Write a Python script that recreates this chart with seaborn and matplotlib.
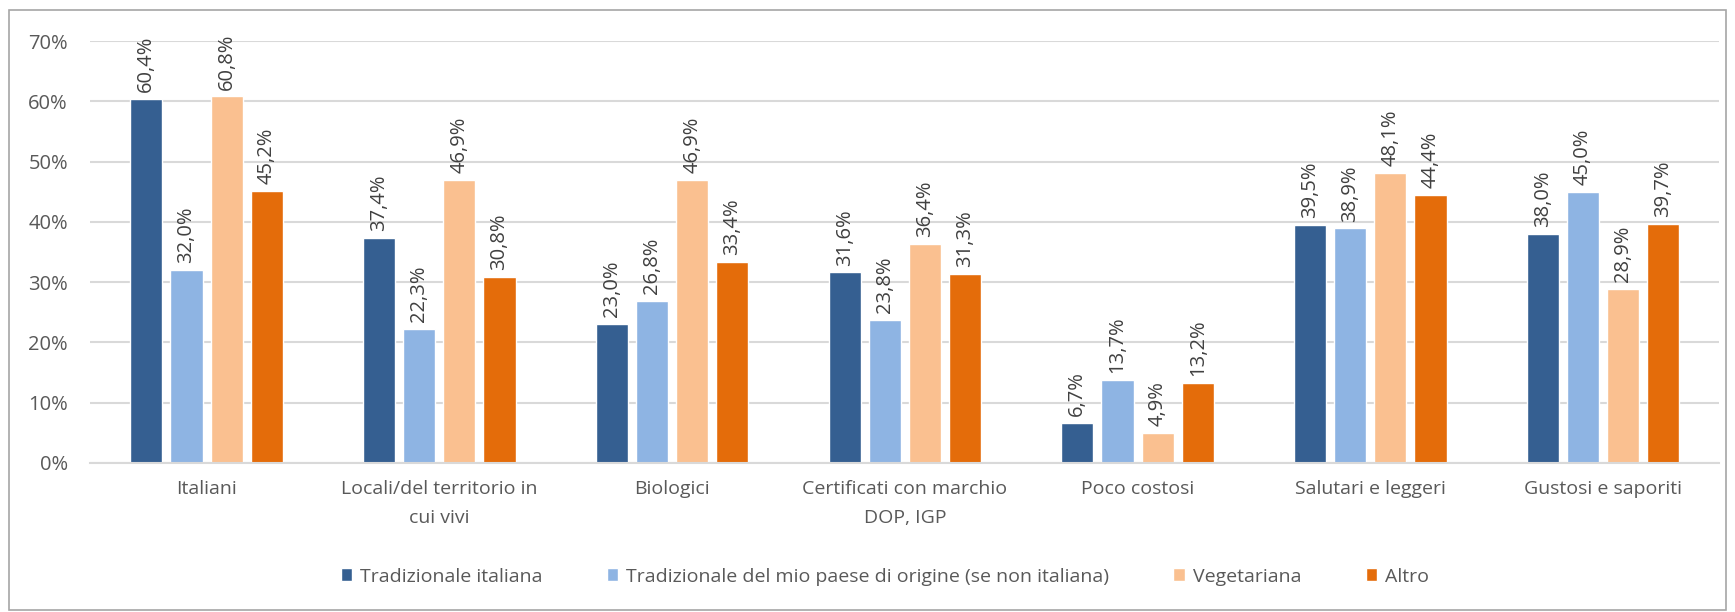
import matplotlib
matplotlib.use("Agg")
import matplotlib.pyplot as plt
import seaborn as sns
import pandas as pd
from matplotlib.patches import Rectangle

categories = ["Italiani", "Locali/del territorio in\ncui vivi", "Biologici",
              "Certificati con marchio\nDOP, IGP", "Poco costosi",
              "Salutari e leggeri", "Gustosi e saporiti"]
series = ["Tradizionale italiana",
          "Tradizionale del mio paese di origine (se non italiana)",
          "Vegetariana", "Altro"]
trad_italiana = [60.4, 37.4, 23.0, 31.6, 6.7, 39.5, 38.0]
trad_origine = [32.0, 22.3, 26.8, 23.8, 13.7, 38.9, 45.0]
vegetariana = [60.8, 46.9, 46.9, 36.4, 4.9, 48.1, 28.9]
altro = [45.2, 30.8, 33.4, 31.3, 13.2, 44.4, 39.7]
colors = ["#355F91", "#8EB4E3", "#FAC090", "#E46C0A"]
yticks = [0, 10, 20, 30, 40, 50, 60, 70]

rows = []
for s, vals in zip(series, [trad_italiana, trad_origine, vegetariana, altro]):
    for c, v in zip(categories, vals):
        rows.append({"cat": c, "serie": s, "val": v})
df = pd.DataFrame(rows)

sns.set_theme(style="white")
plt.rcParams['font.family'] = ['Open Sans', 'DejaVu Sans']

fig = plt.figure(figsize=(17.35, 6.12), dpi=100)
ax = fig.add_axes([0.052, 0.2435, 0.939, 0.6895])

sns.barplot(data=df, x="cat", y="val", hue="serie", order=categories,
            hue_order=series, palette=colors, width=0.69, gap=0.2,
            ax=ax, saturation=1, legend=True)

ax.set_ylim(0, 70)
ax.set_yticks(yticks)
ax.set_yticklabels([f"{t}%" for t in yticks], fontsize=14.5, color="#595959")
ax.set_xlabel("")
ax.set_ylabel("")
ax.yaxis.grid(True, color="#D9D9D9", linewidth=1.5)
ax.set_axisbelow(True)
for sp in ["top", "right", "left"]:
    ax.spines[sp].set_visible(False)
ax.spines["bottom"].set_color("#D9D9D9")
ax.spines["bottom"].set_linewidth(1.5)
ax.tick_params(axis="x", length=0, pad=12)
ax.tick_params(axis="y", length=0, pad=16)
for lab in ax.get_xticklabels():
    lab.set_fontsize(14)
    lab.set_color("#595959")
    lab.set_linespacing(1.8)

for cont in ax.containers:
    labels = [f"{v:.1f}%".replace(".", ",") for v in cont.datavalues]
    ax.bar_label(cont, labels=labels, rotation=90, padding=5,
                 fontsize=14.5, color="#404040")

handles, labs = ax.get_legend_handles_labels()
ax.legend_.remove()
fig.legend(handles, labs, loc="center", bbox_to_anchor=(0.51, 0.058),
           ncol=4, frameon=False, fontsize=14, handlelength=0.6,
           handleheight=0.6, columnspacing=3.3, handletextpad=0.4,
           labelcolor="#595959")

fig.patches.append(Rectangle((0.005, 0.003), 0.99, 0.98, transform=fig.transFigure,
                             fill=False, edgecolor="#A6A6A6", linewidth=1.2))

fig.savefig("out.png", dpi=100)
